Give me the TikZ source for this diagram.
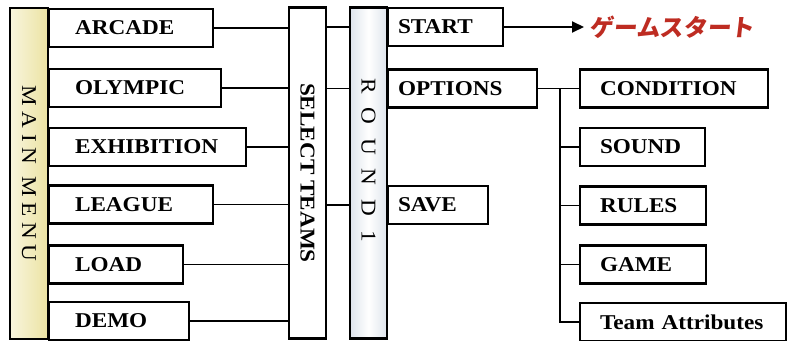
\documentclass[tikz,border=0pt]{standalone}
\usepackage{fontspec}
\setmainfont{Liberation Serif}[FakeStretch=1.1]
\newfontfamily\spreadfont{Liberation Serif}[FakeStretch=1.1, WordSpace=2.4]
\newfontfamily\jpfont{Noto Sans CJK JP}[FakeSlant=0.12]
\usetikzlibrary{arrows.meta}

\definecolor{menucream}{RGB}{248,245,222}
\definecolor{menuyellow}{RGB}{236,227,162}
\definecolor{roundgray}{RGB}{222,228,236}
\definecolor{jpred}{RGB}{190,44,34}

\begin{document}
\begin{tikzpicture}[
		x=0.02cm, y=-0.02cm,
		font=\fontsize{12}{14}\selectfont,
		column/.style={
				draw,
				line width=1.2pt,
				minimum width=0.75cm,
				minimum height=6.62cm,
				inner sep=0pt
			},
		menu/.style={
				draw,
				line width=1.2pt,
				minimum height=0.76cm,
				inner xsep=0.52cm,
				align=left,
				anchor=west,
				font=\fontsize{12}{14}\selectfont\bfseries
			},
		sub/.style={
				menu,
				inner xsep=0.2cm
			},
		opt/.style={
				menu,
				inner xsep=0.4cm
			},
		link/.style={
				line width=1.1pt
			},
		arrow/.style={
				-{Triangle[length=2.4mm, width=2.2mm]},
				line width=1.1pt
			}
	]

	\useasboundingbox (0,0) rectangle (787,341);

	% ================= three tall columns =================
	\node[column, minimum width=0.76cm, left color=menucream, right color=menuyellow]
	(mainmenu) at (29,173.5) {\rotatebox{-90}{M A I N\ \ M E N U}};
	\node[column, minimum width=0.74cm, font=\fontsize{12}{14}\selectfont\bfseries]
	(teams) at (307.5,173) {\rotatebox{-90}{SELECT TEAMS}};
	\node[column, minimum width=0.74cm, left color=roundgray, right color=roundgray, middle color=white]
	(round) at (368.5,173) {\rotatebox{-90}{\spreadfont R O U N D 1\hspace{0.52cm}}};

	% ================= main menu entries =================
	\node[menu, text width=2.24cm] (arcade) at (48,28) {ARCADE};
	\node[menu, text width=2.40cm] (olympic) at (48,88) {OLYMPIC};
	\node[menu, text width=2.90cm] (exhibition) at (48,147) {EXHIBITION};
	\node[menu, text width=2.24cm] (league) at (48,204.5) {LEAGUE};
	\node[menu, text width=1.64cm] (load) at (48,264.5) {LOAD};
	\node[menu, text width=1.76cm] (demo) at (48,321) {DEMO};

	\foreach \entry in {arcade,olympic,exhibition,league,load,demo}
	\draw[link] (\entry.east) -- (\entry.east -| teams.west);

	% ================= round 1 entries =================
	\node[sub, text width=1.90cm] (start) at (387,27) {START};
	\node[sub, text width=2.58cm] (options) at (387,88.5) {OPTIONS};
	\node[sub, text width=1.60cm] (save) at (387,205) {SAVE};

	\foreach \entry in {start,options,save}
	\draw[link] (\entry.west -| teams.east) -- (\entry.west -| round.west);

	\node[anchor=west, inner xsep=0.1cm, text=jpred, font=\jpfont\fontsize{13.5}{15}\selectfont\bfseries]
	(gamestart) at (584,27) {ゲームスタート};
	\draw[arrow] (start.east) -- (gamestart.west);

	% ================= options entries =================
	\node[opt, text width=2.96cm] (condition) at (579,88.5) {CONDITION};
	\node[opt, text width=1.70cm] (sound) at (579,147) {SOUND};
	\node[opt, text width=1.72cm] (rules) at (579,205.5) {RULES};
	\node[opt, text width=1.72cm] (game) at (579,264.5) {GAME};
	\node[opt, text width=3.32cm] (teamattr) at (579,322) {Team Attributes};

	\coordinate (fork) at (560,88.5);
	\draw[link] (options.east) -- (condition.west);
	\draw[link] (fork) |- (teamattr.west);
	\foreach \entry in {sound,rules,game}
	\draw[link] (fork |- \entry.west) -- (\entry.west);

\end{tikzpicture}
\end{document}
